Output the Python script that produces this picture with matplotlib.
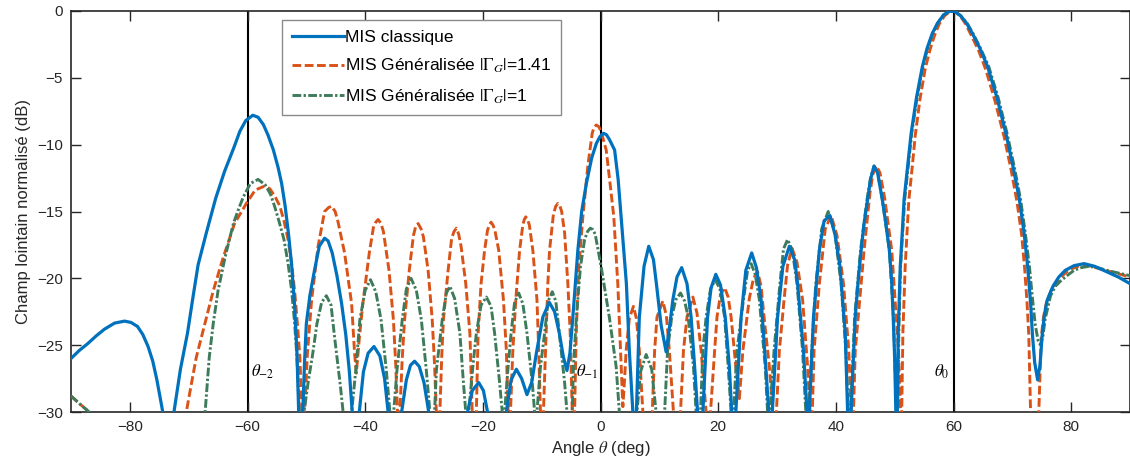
#!/usr/bin/env python3
"""
Normalised far field of the MIS arrays: classic vs generalised (|Gamma_G| = 1.41 and 1).
Values read off the reference figure; nulls below -30 dB are clipped by the axes.
"""
import matplotlib
matplotlib.use("Agg")
import matplotlib.pyplot as plt

# --- MIS classique (angle in deg, field in dB) ---
theta_b = [-90, -88.6, -87.2, -85.7, -84.3, -82.6, -80.9, -79.8, -78.7, -77.8,
           -76.9, -76.1, -75.4, -74.4, -73.4, -72.5, -71.4, -70.2, -69.3, -68.4,
           -67.0, -65.4, -63.9, -62.3, -61.3, -60.3, -59.1, -58.2, -57.3, -56.5,
           -55.6, -54.8, -54.2, -53.6, -53.0, -52.5, -52.0, -51.6, -51.3, -51.0,
           -50.6, -50.3, -50.0, -49.4, -48.7, -47.8, -46.9, -46.3, -45.6, -44.8,
           -44.0, -43.3, -42.7, -42.2, -41.6, -41.0, -40.3, -39.5, -38.5, -37.5,
           -36.7, -36.1, -35.0, -33.8, -33.0, -32.3, -31.6, -30.8, -30.0, -29.2,
           -26.0, -22.6, -21.8, -20.7, -19.9, -19.2, -17.6, -16.0, -15.2, -14.3,
           -13.4, -12.5, -11.7, -10.9, -9.8, -8.7, -7.8, -7.0, -6.3, -5.7,
           -5.2, -4.7, -3.85, -3.2, -2.4, -1.5, -0.7, -0.1, 0.5, 1.0,
           1.5, 2.4, 3.0, 3.5, 4.0, 4.4, 4.9, 5.5, 5.8, 6.1,
           6.6, 7.4, 8.2, 9.0, 9.5, 10.3, 11.15, 11.8, 12.3, 13.0,
           13.8, 14.7, 15.4, 16.0, 16.5, 17.0, 17.4, 18.2, 18.8, 19.6,
           20.4, 21.2, 21.9, 22.3, 22.7, 23.0, 23.9, 24.7, 25.7, 26.5,
           27.3, 28.1, 28.6, 28.9, 29.2, 30.1, 31.0, 32.1, 33.0, 33.5,
           34.5, 35.1, 35.3, 35.5, 36.2, 37.2, 38.0, 39.0, 39.9, 40.7,
           41.6, 42.0, 42.3, 42.6, 43.0, 43.3, 43.8, 44.3, 44.8, 45.4,
           45.9, 46.5, 47.1, 47.9, 48.5, 49.1, 49.5, 49.75, 50.0, 50.2,
           50.3, 50.45, 50.6, 50.95, 51.3, 51.6, 52.2, 52.8, 53.7, 54.7,
           55.5, 56.4, 57.3, 58.3, 59.3, 60.2, 61.2, 62.2, 63.2, 64.5,
           65.8, 67.4, 68.9, 70.1, 71.2, 72.0, 72.6, 73.1, 73.4, 73.8,
           74.3, 74.7, 75.1, 75.5, 75.95, 76.9, 77.9, 79.0, 80.5, 82.2,
           84.0, 86.0, 88.0, 90]
db_b = [-26.0, -25.4, -24.9, -24.3, -23.8, -23.35, -23.2, -23.3, -23.6, -24.2,
        -25.1, -26.2, -27.6, -30, -45, -30, -26.8, -24.1, -21.5, -19.0,
        -16.6, -14.0, -12.0, -10.2, -9.0, -8.2, -7.8, -7.95, -8.5, -9.3,
        -10.4, -11.7, -12.9, -14.6, -16.8, -19.0, -22.0, -25.5, -30, -45,
        -30, -26.2, -23.4, -21.3, -19.6, -17.6, -17.0, -17.2, -18.1, -19.8,
        -21.9, -24.2, -26.9, -30, -45, -30, -27.0, -25.6, -25.1, -25.8,
        -27.5, -30, -45, -30, -27.6, -26.5, -26.2, -26.6, -27.8, -30,
        -45, -30, -28.4, -27.8, -28.4, -30, -45, -30, -27.6, -26.8,
        -27.5, -28.7, -27.8, -25.6, -22.9, -21.8, -22.5, -24.1, -25.9, -26.9,
        -25.6, -22.9, -17.9, -15.0, -12.9, -11.0, -9.9, -9.4, -9.15, -9.25,
        -9.6, -10.4, -12.6, -15.4, -18.2, -20.4, -25.4, -30, -45, -30,
        -22.9, -19.1, -17.6, -18.6, -20.4, -23.5, -25.5, -23.4, -21.6, -19.9,
        -19.2, -20.4, -22.9, -26.6, -30, -45, -30, -22.9, -20.7, -19.7,
        -20.5, -22.9, -26.6, -30, -45, -30, -22.9, -19.4, -18.1, -19.2,
        -21.6, -26.6, -30, -45, -30, -22.9, -19.1, -17.6, -18.6, -20.4,
        -25.4, -30, -45, -30, -22.9, -17.9, -15.7, -15.3, -16.8, -19.1,
        -24.1, -30, -45, -30, -25.8, -22.9, -20.2, -17.9, -15.9, -14.1,
        -12.6, -11.6, -12.1, -14.1, -15.9, -17.9, -20.3, -22.9, -26.0, -30,
        -45, -30, -24.1, -19.1, -16.5, -14.1, -11.6, -9.15, -6.5, -4.17,
        -2.8, -1.67, -0.9, -0.3, -0.02, -0.03, -0.35, -0.9, -1.67, -2.8,
        -4.17, -6.5, -9.15, -11.6, -14.1, -16.6, -19.1, -21.8, -24.1, -26.3,
        -27.6, -26.5, -24.1, -22.6, -21.6, -20.6, -19.9, -19.4, -19.05, -18.9,
        -19.1, -19.5, -19.9, -20.4]

# --- MIS Généralisée |Gamma_G| = 1.41 ---
theta_o = [-90, -88.5, -86.9, -80.0, -70.4, -69.5, -68.7, -67.2, -65.8, -64.1,
           -62.2, -60.2, -58.7, -57.1, -56.2, -55.3, -54.5, -53.8, -53.1, -52.5,
           -52.0, -51.5, -51.1, -50.75, -50.55, -50.3, -49.8, -49.1, -48.0, -46.9,
           -46.2, -45.7, -45.1, -44.6, -43.5, -42.3, -41.8, -41.5, -41.0, -40.4,
           -39.3, -38.6, -38.2, -37.8, -37.3, -36.9, -35.95, -35.2, -34.8, -34.5,
           -34.3, -34.1, -33.7, -33.3, -32.5, -31.8, -31.4, -31.0, -30.5, -30.1,
           -29.3, -28.6, -28.2, -27.9, -27.6, -27.3, -27.0, -26.7, -25.9, -25.3,
           -24.9, -24.5, -24.1, -23.7, -22.9, -22.2, -21.8, -21.5, -21.1, -20.8,
           -20.3, -19.7, -19.2, -18.9, -18.6, -18.3, -18.0, -17.3, -16.5, -16.0,
           -15.7, -15.5, -15.3, -14.9, -14.4, -13.75, -13.2, -12.95, -12.7, -12.4,
           -12.1, -11.5, -10.8, -10.5, -10.2, -9.95, -9.7, -9.34, -8.95, -8.66,
           -8.0, -7.6, -7.25, -6.9, -6.6, -6.1, -5.55, -5.15, -4.8, -4.6,
           -4.4, -4.13, -3.68, -3.0, -2.16, -1.41, -1.1, -0.73, -0.3, 0.1,
           0.97, 1.6, 2.26, 2.94, 3.4, 3.8, 4.1, 4.36, 4.9, 5.6,
           6.1, 6.6, 7.2, 8.0, 8.8, 9.2, 9.6, 10.6, 11.2, 11.7,
           12.4, 13.0, 13.6, 14.1, 14.7, 15.7, 16.4, 17.1, 17.95, 18.3,
           18.7, 19.4, 19.8, 20.4, 21.1, 21.7, 22.2, 23.0, 23.6, 24.2,
           25.3, 26.0, 26.7, 27.3, 27.8, 28.7, 29.3, 29.6, 29.9, 30.4,
           31.2, 31.8, 32.55, 33.4, 34.35, 35.2, 35.6, 35.8, 36.0, 36.3,
           37.2, 38.2, 39.2, 40.2, 41.3, 42.2, 42.6, 42.8, 43.0, 43.3,
           44.8, 45.8, 46.3, 46.9, 47.5, 48.3, 49.5, 50.65, 51.0, 51.1,
           51.2, 51.4, 51.8, 52.4, 53.0, 53.5, 54.3, 55.2, 56.0, 56.8,
           57.6, 58.5, 59.4, 60.3, 61.2, 62.1, 63.0, 64.3, 65.5, 67.1,
           68.6, 69.8, 70.8, 71.6, 72.1, 72.5, 72.8, 73.1, 73.8, 74.5,
           74.9, 75.3, 75.8, 76.7, 77.8, 79.0, 80.0, 81.2, 82.5, 85.0,
           87.5, 90]
db_o = [-28.8, -29.4, -30, -45, -30, -27.8, -25.9, -23.3, -20.9, -18.4,
        -15.9, -14.4, -13.4, -13.1, -13.3, -13.9, -14.6, -15.7, -17.1, -18.9,
        -20.9, -23.5, -25.9, -30, -45, -30, -25.5, -21.6, -17.6, -15.0,
        -14.7, -14.6, -15.0, -15.8, -18.1, -21.9, -25.6, -27.1, -24.5, -21.9,
        -18.1, -16.2, -15.8, -15.6, -15.9, -16.5, -19.4, -23.1, -26.5, -30,
        -45, -30, -26.0, -23.1, -19.4, -16.8, -16.1, -15.9, -16.3, -16.9,
        -19.4, -23.1, -26.5, -30, -45, -30, -26.0, -23.1, -19.4, -17.0,
        -16.5, -16.25, -16.7, -17.6, -20.4, -24.1, -30, -45, -30, -24.1,
        -20.4, -17.9, -16.4, -16.0, -15.8, -16.0, -16.3, -17.9, -21.6, -25.4,
        -30, -45, -30, -25.4, -21.6, -17.9, -16.0, -15.6, -15.4, -15.6,
        -16.0, -17.9, -21.6, -25.4, -30, -45, -30, -25.4, -20.4, -17.9,
        -15.2, -14.6, -14.4, -14.6, -15.0, -16.6, -20.4, -24.1, -30, -45,
        -30, -24.1, -19.1, -15.4, -11.6, -9.15, -8.7, -8.53, -8.65, -9.0,
        -10.4, -12.8, -15.4, -20.4, -25.4, -29.6, -27.5, -25.4, -23.0, -22.1,
        -23.0, -25.4, -30, -45, -30, -25.4, -22.9, -21.7, -22.8, -25.4,
        -30, -45, -30, -25.4, -22.9, -21.4, -22.6, -25.4, -30, -45,
        -30, -25.4, -22.9, -21.2, -20.7, -21.4, -22.9, -26.6, -29.0, -25.4,
        -21.5, -20.0, -19.5, -20.6, -22.9, -26.6, -30, -45, -30, -25.4,
        -21.6, -19.0, -17.75, -18.8, -21.6, -26.6, -30, -45, -30, -25.4,
        -20.4, -16.3, -15.3, -16.8, -20.4, -25.4, -30, -45, -30, -25.4,
        -17.9, -13.6, -12.2, -11.6, -12.1, -14.0, -17.9, -25.4, -30, -45,
        -30, -24.0, -19.0, -14.2, -11.6, -9.3, -6.6, -4.3, -2.9, -1.8,
        -0.95, -0.35, -0.03, -0.05, -0.4, -1.0, -1.8, -3.0, -4.4, -6.8,
        -9.4, -11.9, -14.3, -16.8, -19.3, -21.8, -24.3, -30, -45, -30,
        -24.5, -22.9, -21.8, -20.8, -20.1, -19.6, -19.3, -19.1, -19.0, -19.3,
        -19.6, -19.9]

# --- MIS Généralisée |Gamma_G| = 1 ---
theta_g = [-90, -88.5, -86.9, -78.0, -67.2, -66.5, -65.8, -65.0, -63.8, -62.4,
           -61.5, -60.7, -59.5, -58.2, -57.0, -56.1, -55.4, -54.6, -53.8, -53.1,
           -52.5, -52.0, -51.6, -51.2, -50.9, -50.4, -49.6, -49.0, -48.2, -47.4,
           -46.6, -45.8, -45.2, -44.2, -43.75, -43.0, -42.3, -41.6, -40.9, -40.0,
           -39.1, -38.2, -37.3, -36.4, -35.8, -35.5, -35.15, -34.6, -33.7, -33.0,
           -32.2, -31.3, -30.45, -29.6, -29.0, -28.6, -28.2, -27.9, -26.9, -26.2,
           -25.6, -24.8, -23.9, -23.3, -22.9, -22.65, -22.4, -21.7, -21.1, -20.3,
           -19.4, -18.6, -18.0, -17.15, -16.7, -16.5, -16.3, -15.7, -15.2, -14.6,
           -13.9, -13.2, -12.5, -11.6, -11.2, -11.0, -10.8, -10.2, -9.5, -8.9,
           -8.2, -7.6, -7.0, -6.1, -5.7, -5.25, -4.8, -4.6, -4.1, -3.4,
           -2.7, -2.2, -1.75, -1.3, -0.9, 0.1, 1.5, 2.66, 3.2, 4.7,
           6.2, 6.8, 7.76, 8.7, 9.45, 10.2, 10.9, 11.4, 12.1, 12.8,
           13.6, 14.3, 14.9, 15.8, 16.25, 16.6, 17.0, 17.4, 17.95, 18.7,
           19.5, 20.3, 21.1, 21.7, 22.2, 22.4, 22.6, 23.2, 24.3, 25.0,
           25.6, 26.3, 27.0, 28.0, 28.4, 28.6, 28.8, 29.5, 30.5, 31.1,
           31.8, 32.6, 33.4, 34.35, 34.9, 35.15, 35.4, 35.9, 36.6, 37.6,
           38.7, 39.8, 40.9, 41.7, 42.1, 42.3, 42.5, 43.2, 44.2, 45.3,
           45.9, 46.5, 47.1, 47.9, 49.1, 49.8, 50.3, 50.4, 50.5, 50.7,
           51.0, 51.7, 52.3, 52.9, 53.8, 54.8, 55.6, 56.5, 57.3, 58.3,
           59.3, 60.2, 61.2, 62.3, 63.3, 64.6, 66.0, 67.6, 69.1, 70.3,
           71.4, 72.2, 72.9, 73.4, 73.9, 74.4, 74.8, 75.2, 75.6, 76.5,
           77.3, 78.2, 79.3, 80.5, 81.7, 83.0, 84.5, 86.0, 88.0, 90]
db_g = [-28.8, -29.4, -30, -45, -30, -25.9, -23.3, -20.9, -18.4, -15.9,
        -14.8, -13.9, -12.9, -12.6, -13.0, -13.7, -14.6, -15.8, -17.1, -18.9,
        -20.9, -23.3, -25.9, -30, -45, -30, -27.5, -25.9, -23.4, -21.8,
        -21.3, -22.0, -24.4, -28.1, -30, -45, -30, -26.9, -23.1, -20.9,
        -20.1, -21.0, -23.1, -26.9, -30, -45, -30, -26.9, -23.1, -20.8,
        -20.0, -20.9, -23.1, -26.9, -30, -45, -30, -26.9, -23.1, -21.1,
        -20.6, -21.5, -24.1, -27.8, -30, -45, -30, -26.6, -24.1, -22.0,
        -21.4, -22.1, -24.1, -27.8, -30, -45, -30, -26.6, -24.1, -21.8,
        -21.1, -21.9, -24.1, -27.8, -30, -45, -30, -26.6, -24.1, -21.7,
        -21.0, -21.7, -24.1, -27.8, -30, -45, -30, -26.6, -22.9, -19.1,
        -17.1, -16.5, -16.25, -16.35, -16.7, -19.1, -22.9, -26.6, -30, -45,
        -30, -27.0, -25.7, -26.8, -30, -45, -30, -25.4, -22.9, -21.6,
        -21.1, -21.7, -22.9, -26.6, -30, -45, -30, -25.4, -22.9, -20.8,
        -20.1, -20.8, -22.9, -26.6, -30, -45, -30, -25.4, -21.6, -19.4,
        -18.9, -19.7, -21.6, -26.6, -30, -45, -30, -25.4, -20.4, -17.8,
        -17.1, -17.9, -20.4, -25.4, -30, -45, -30, -25.4, -20.4, -16.3,
        -15.0, -16.5, -20.4, -25.4, -30, -45, -30, -22.9, -17.9, -14.1,
        -12.5, -11.6, -12.1, -14.1, -17.9, -22.9, -30, -45, -30, -24.1,
        -19.1, -14.1, -11.6, -9.15, -6.5, -4.17, -2.8, -1.67, -0.9, -0.3,
        -0.02, -0.03, -0.35, -0.9, -1.67, -2.8, -4.17, -6.5, -9.15, -11.6,
        -14.1, -16.6, -19.1, -21.4, -23.5, -24.7, -25.0, -24.3, -23.0, -21.3,
        -20.6, -20.2, -19.8, -19.4, -19.2, -19.1, -19.2, -19.4, -19.6, -19.8]

# grating-lobe directions marked on the plot
marker_angles = [-60, 0, 60]
marker_labels = [r"$\theta_{-2}$", r"$\theta_{-1}$", r"$\theta_{0}$"]

BLUE = "#0072BD"
ORANGE = "#D95319"
GREEN = "#3E7B5B"


def main():
    plt.rcParams["font.family"] = ["Liberation Sans", "DejaVu Sans"]
    plt.rcParams["mathtext.fontset"] = "stix"

    fig = plt.figure(figsize=(11.3, 4.67), dpi=100)
    ax = fig.add_axes([71 / 1130, 55 / 467, 1059 / 1130, 401 / 467])

    for a in marker_angles:
        ax.axvline(a, color="black", lw=1.5, zorder=1)

    l_o, = ax.plot(theta_o, db_o, color=ORANGE, lw=2.1, dashes=(3.0, 1.2),
                   label=r"MIS Généralisée $|\Gamma_G|$=1.41", zorder=3)
    l_g, = ax.plot(theta_g, db_g, color=GREEN, lw=2.1, dashes=(3.0, 0.8, 0.8, 0.8),
                   label=r"MIS Généralisée $|\Gamma_G|$=1", zorder=3)
    l_b, = ax.plot(theta_b, db_b, color=BLUE, lw=2.3, label="MIS classique", zorder=4)

    # theta labels next to the black lines
    ax.text(-59.4, -27.0, marker_labels[0], fontsize=12, va="center", ha="left")
    ax.text(-0.4, -27.0, marker_labels[1], fontsize=12, va="center", ha="right")
    ax.text(59.4, -27.0, marker_labels[2], fontsize=12, va="center", ha="right")

    ax.set_xlim(-90, 90)
    ax.set_ylim(-30, 0)
    ax.set_xticks(range(-80, 81, 20))
    ax.set_yticks(range(-30, 1, 5))
    ax.tick_params(direction="in", length=7, width=1.0, top=True, right=True,
                   labelsize=11, colors="#262626", pad=6)
    for s in ax.spines.values():
        s.set_color("#262626")
        s.set_linewidth(1.2)

    ax.set_xlabel(r"Angle $\theta$ (deg)", fontsize=12, color="#262626", labelpad=3)
    ax.set_ylabel("Champ lointain normalisé (dB)", fontsize=12, color="#262626", labelpad=4)

    leg = ax.legend(handles=[l_b, l_o, l_g], loc="upper left",
                    bbox_to_anchor=(0.1992, 0.9776), borderaxespad=0.0,
                    fontsize=12.5, handlelength=3.0,
                    handletextpad=0.1, labelspacing=0.7, borderpad=0.55,
                    fancybox=False, framealpha=1.0, edgecolor="#8a8a8a")
    leg.get_frame().set_linewidth(1.0)

    fig.savefig("out.png", dpi=100)
    plt.close(fig)


if __name__ == "__main__":
    main()
